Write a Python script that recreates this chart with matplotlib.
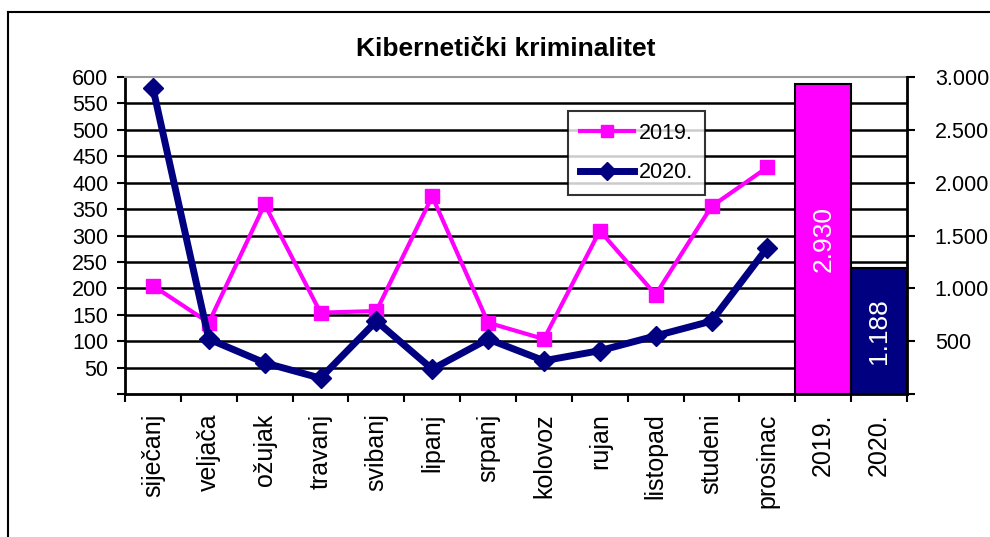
import numpy as np
import matplotlib
matplotlib.use('Agg')
import matplotlib.pyplot as plt
from matplotlib.lines import Line2D
from matplotlib.ticker import FuncFormatter

plt.rcParams['font.family'] = ['Liberation Sans', 'DejaVu Sans']

months = ['siječanj', 'veljača', 'ožujak', 'travanj', 'svibanj', 'lipanj',
          'srpanj', 'kolovoz', 'rujan', 'listopad', 'studeni', 'prosinac']
years = ['2019.', '2020.']
v2019 = [205, 135, 359, 154, 157, 374, 135, 104, 309, 188, 355, 429]
v2020 = [579, 104, 59, 30, 138, 47, 104, 63, 82, 110, 138, 277]
totals = [2930, 1188]

PINK = '#FF00FF'
NAVY = '#000080'

fig = plt.figure(figsize=(9.9, 5.37), dpi=100)
ax = fig.add_axes([125 / 990, 1 - 394 / 537, 782 / 990, 317 / 537])

# outer chart frame (only left and top visible in the crop)
fig.add_artist(Line2D([8 / 990, 8 / 990], [0, 1 - 12 / 537], color='black', lw=1.5))
fig.add_artist(Line2D([8 / 990, 1], [1 - 12 / 537, 1 - 12 / 537], color='black', lw=1.5))

x = np.arange(len(months))
ax.plot(x, v2019, color=PINK, lw=3, marker='s', ms=10, label='2019.', zorder=3)
ax.plot(x, v2020, color=NAVY, lw=5, marker='D', ms=10, label='2020.', zorder=4)

ax.set_xlim(-0.5, len(months) + len(years) - 0.5)
ax.set_ylim(0, 600)
ax.set_yticks(range(0, 601, 50))
ax.yaxis.set_major_formatter(FuncFormatter(lambda v, p: '' if v == 0 else '%d' % v))
for y in range(50, 600, 50):
    ax.axhline(y, color='black', lw=1.8, zorder=1)

ax.set_xticks(np.arange(-0.5, 14, 1))
ax.set_xticklabels([])
ax.set_xticks(np.arange(14), months + years, minor=True)
ax.tick_params(axis='x', which='minor', length=0, rotation=90, labelsize=18, pad=14)
ax.tick_params(axis='x', which='major', length=6, width=1.5, direction='out')
ax.tick_params(axis='y', length=6, width=1.5, labelsize=15.5, pad=6)

for s in ['left', 'bottom']:
    ax.spines[s].set_linewidth(2)
ax.spines['top'].set_color('#999999')
ax.spines['top'].set_linewidth(1.5)
ax.spines['right'].set_visible(False)

ax2 = ax.twinx()
bx = np.arange(len(months), len(months) + len(years))
ax2.bar(bx, totals, width=1.0, color=[PINK, NAVY], edgecolor='black', lw=1.5, zorder=2)
for xi, t in zip(bx, totals):
    ax2.text(xi, t / 2, '{:,}'.format(t).replace(',', '.'), rotation=90, color='white',
             ha='center', va='center', fontsize=19)
ax2.set_ylim(0, 3000)
ax2.set_yticks(range(0, 3001, 500))
ax2.yaxis.set_major_formatter(FuncFormatter(
    lambda v, p: '' if v == 0 else '{:,}'.format(int(v)).replace(',', '.')))
ax2.tick_params(axis='y', length=6, width=1.5, labelsize=15.5, pad=14)
ax2.spines['right'].set_linewidth(2)
for s in ['left', 'top', 'bottom']:
    ax2.spines[s].set_visible(False)

leg = ax.legend(loc='upper left', bbox_to_anchor=(0.5665, 0.893), fontsize=15.5,
                frameon=True, fancybox=False, handlelength=2.5, borderpad=0.55,
                labelspacing=0.85, handletextpad=0.25, borderaxespad=0)
leg.get_frame().set_edgecolor('black')
leg.get_frame().set_linewidth(1.5)
leg.set_zorder(10)
for h in leg.legend_handles:
    h.set_markersize(9)

fig.text(506 / 990, 1 - 49 / 537, 'Kibernetički kriminalitet', ha='center', va='center',
         fontsize=19, fontweight='bold')

fig.savefig('out.png', dpi=100)
